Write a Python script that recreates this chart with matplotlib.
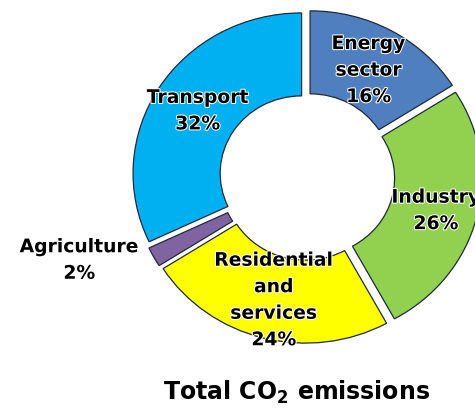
import matplotlib.pyplot as plt
import matplotlib.patheffects as pe
import numpy as np

# 各部门CO2排放占比
sectors = ['Energy\nsector', 'Industry', 'Residential\nand\nservices', 'Agriculture', 'Transport']
shares = [16, 26, 24, 2, 32]
colors = ['#4f7fbf', '#92d050', '#ffff00', '#8064a2', '#00b0f0']

# 标签位置（相对半径）
label_dist = [0.72, 0.755, 0.755, 1.41, 0.73]
label_rot = [0, -1, 0, -8, 0]

W, H = 475, 408
sx = 1.05  # 横向拉伸
cx, cy, R = 307, 176.7, 160.5

fig = plt.figure(figsize=(W / 100, H / 100), dpi=100)
ax = fig.add_axes([0, 0, 1, 1])

wedges, _ = ax.pie(shares, startangle=90, counterclock=False, colors=colors,
                   radius=R, center=(cx / sx, H - cy),
                   explode=[0.038 * R] * len(shares), frame=True,
                   wedgeprops=dict(width=0.517 * R, edgecolor='#1f2a3a', linewidth=0.9))
ax.set_xlim(0, W / sx)
ax.set_ylim(0, H)
ax.set_aspect('auto')
ax.axis('off')

stroke = [pe.withStroke(linewidth=1.5, foreground='white')]
for w, name, v, d, rot in zip(wedges, sectors, shares, label_dist, label_rot):
    ang = np.deg2rad((w.theta1 + w.theta2) / 2 + rot)
    x0, y0 = w.center
    x = x0 + d * R * np.cos(ang)
    y = y0 + d * R * np.sin(ang)
    ax.text(x, y, f'{name}\n{v}%', ha='center', va='center', fontsize=13.5,
            fontweight='bold', linespacing=1.5, color='black', path_effects=stroke)

plt.rcParams['mathtext.default'] = 'bf'
fig.text(297 / W, 1 - 392 / H, r'Total CO$_2$ emissions', ha='center', va='center',
         fontsize=17, fontweight='bold')

plt.savefig('out.png', dpi=100)
